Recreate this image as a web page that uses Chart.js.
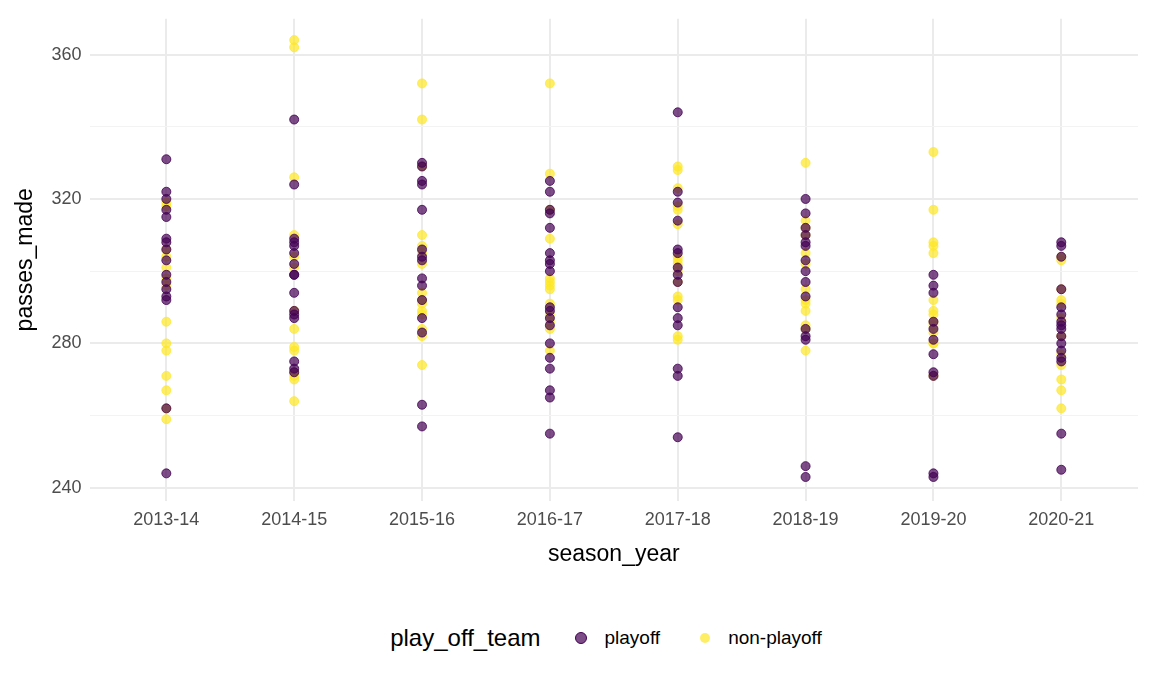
<!DOCTYPE html>
<html><head><meta charset="utf-8">
<script src="https://cdn.jsdelivr.net/npm/chart.js@4"></script>
<style>
body{margin:0;background:#fff;font-family:Arial,"Liberation Sans",sans-serif;}
#wrap{position:absolute;left:0;top:0;width:1152px;height:572px;}
#leg{position:absolute;top:624px;left:0;width:1152px;display:flex;justify-content:center;align-items:center;font-size:19px;color:#000;padding-left:60px;box-sizing:border-box;}
#leg .t{font-size:24px;margin-right:30px;}
#leg .d{width:10px;height:10px;border-radius:50%;display:inline-block;margin:0 18px 0 4px;}
</style></head><body>
<div id="wrap"><canvas id="c"></canvas></div>
<div id="leg"><span class="t">play_off_team</span><span class="d" style="background:rgba(68,1,84,0.7);border:1px solid #440154"></span><span style="margin-right:36px">playoff</span><span class="d" style="background:rgba(253,231,37,0.7)"></span><span>non-playoff</span></div>
<script>
const seasons=["2013-14","2014-15","2015-16","2016-17","2017-18","2018-19","2019-20","2020-21"];
const yTicks=[240,280,320,360];
const playoff=[
[331,322,320,317,315,309,308,306,303,299,297,295,293,292,262,244],
[342,324,309,308,307,305,302,299,299,294,289,288,287,275,273,272],
[330,329,325,324,317,306,304,303,298,296,292,287,283,263,257],
[325,322,317,316,312,305,303,302,300,290,289,287,285,280,276,273,267,265,255],
[344,322,319,314,306,305,301,299,297,290,287,285,273,271,254],
[320,316,312,310,308,307,303,300,297,293,284,282,281,246,243],
[299,296,294,286,284,281,277,272,271,244,243],
[308,307,304,295,290,288,286,285,284,282,280,278,276,275,255,245]];
const nonPlayoff=[
[319,318,306,304,301,298,296,286,280,278,271,267,262,259],
[364,362,326,310,304,301,289,284,279,278,272,271,270,264],
[352,342,329,310,307,305,302,294,292,291,289,288,284,282,274],
[352,327,317,309,298,297,296,295,291,288,286,284,278],
[329,328,323,318,317,313,304,303,302,300,297,293,292,282,281],
[330,314,312,310,305,302,295,292,291,289,285,284,278],
[333,317,308,307,305,292,289,288,286,285,283,280,280,271],
[304,303,295,292,291,287,282,277,274,270,267,262]];
const toPts=a=>a.flatMap((vals,i)=>vals.map(v=>({x:i,y:v})));
new Chart(document.getElementById('c'),{type:'scatter',
data:{datasets:[
{label:'playoff',data:toPts(playoff),backgroundColor:'rgba(68,1,84,0.7)',borderColor:'rgba(68,1,84,0.8)',borderWidth:1,pointRadius:4.5},
{label:'non-playoff',data:toPts(nonPlayoff),backgroundColor:'rgba(253,231,37,0.7)',borderColor:'rgba(253,231,37,0.7)',borderWidth:1,pointRadius:4.5}]},
options:{responsive:true,maintainAspectRatio:false,animation:false,
layout:{padding:{top:12,right:14,left:8,bottom:0}},
plugins:{legend:{display:false},tooltip:{enabled:false}},
scales:{
x:{type:'linear',min:-0.6,max:7.6,afterBuildTicks:s=>{s.ticks=seasons.map((_,i)=>({value:i}));},
ticks:{callback:v=>seasons[v],color:'#4d4d4d',font:{size:18},padding:8},
grid:{color:'#ebebeb',lineWidth:2,drawTicks:false},border:{display:false},
title:{display:true,text:'season_year',color:'#000',font:{size:23},padding:{top:2}}},
y:{min:236.4,max:369.9,afterBuildTicks:s=>{s.ticks=[240,260,280,300,320,340,360].map(v=>({value:v}));},
ticks:{callback:v=>yTicks.includes(v)?v:'',color:'#4d4d4d',font:{size:18},padding:8},
grid:{color:c=>yTicks.includes(c.tick&&c.tick.value)?'#ebebeb':'#f3f3f3',lineWidth:c=>yTicks.includes(c.tick&&c.tick.value)?2:1,drawTicks:false},border:{display:false},
title:{display:true,text:'passes_made',color:'#000',font:{size:23}}}}}});
</script></body></html>
